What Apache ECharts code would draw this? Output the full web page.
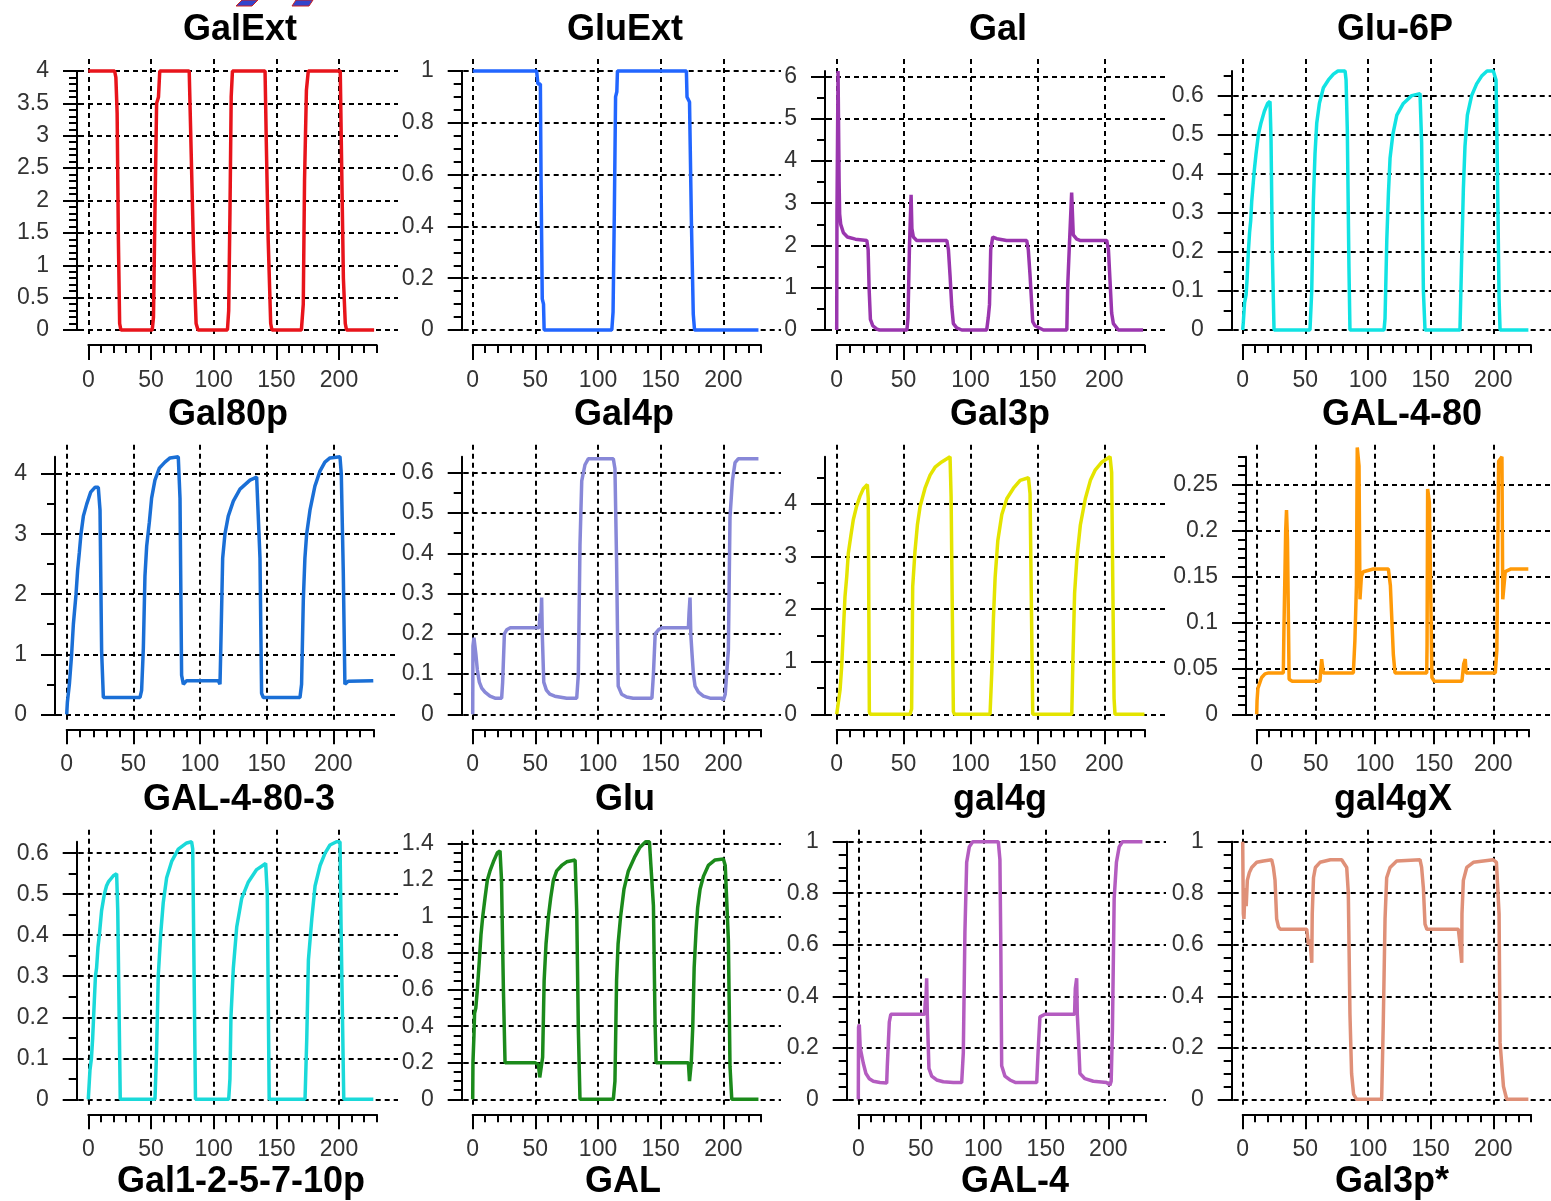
<!DOCTYPE html>
<html>
<head>
<meta charset="utf-8">
<script src="https://cdn.jsdelivr.net/npm/echarts@6/dist/echarts.min.js"></script>
<style>
  html, body { margin: 0; padding: 0; background: #ffffff; }
  #chart { width: 1551px; height: 1201px; }
</style>
</head>
<body>
<div id="chart"></div>
<script>
// Time courses of the galactose network simulation, [time, value]
const galExt = [[0,4],[21,4],[22,3.9],[23,3.35],[24,1.4],[25,0.1],[26,0],[51,0],[52,0.2],[53,1.6],[54.5,3.5],[56,3.6],[57,4],[80.5,4],[81.5,3.2],[84,1.2],[86,0.1],[87.5,0],[111,0],[112,0.3],[113,1.8],[114,3.6],[115,4],[141,4],[142,2.9],[143.5,1.4],[145.5,0.1],[146.5,0],[170,0],[171.5,0.4],[172.5,2.3],[174,3.7],[175.5,4],[201,4],[202,2.7],[203.5,0.8],[205,0.1],[206,0],[228,0]];
const gluExt = [[0,1],[51,1],[52,0.95],[54,0.95],[54.5,0.6],[55.5,0.12],[56.5,0.1],[57,0],[111,0],[112,0.07],[113,0.45],[114,0.9],[115,0.92],[115.5,1],[170.5,1],[171,0.9],[173,0.88],[174.5,0.42],[176,0.06],[177,0],[228,0]];
const gal = [[0,0],[0.2,2.75],[0.8,2.75],[1,6.13],[1.8,3.5],[2.2,2.75],[3,2.5],[5,2.3],[8,2.2],[14,2.15],[22.5,2.12],[23.5,1.9],[24.2,1.0],[25.2,0.25],[27,0.1],[30,0.02],[32,0],[52.5,0],[53.3,0.3],[54.4,2.0],[55.6,3.2],[56.2,2.4],[57.3,2.2],[59.8,2.12],[82.3,2.12],[83.5,1.9],[84.7,1.3],[86,0.55],[87.2,0.15],[89.7,0.05],[93.5,0],[112.1,0],[113.3,0.3],[114.2,0.6],[115.1,1.9],[116.6,2.2],[119.6,2.16],[127,2.12],[142,2.12],[143.2,1.9],[144.5,1.3],[146.5,0.2],[148.2,0.1],[154.5,0],[172,0],[172.6,1.0],[173.9,2.0],[175.6,3.25],[176.8,2.25],[179.4,2.15],[181.8,2.12],[201.8,2.12],[203.1,1.9],[204.3,1.15],[205.5,0.4],[206.8,0.15],[209.3,0.05],[210.5,0],[229,0]];
const glu6P = [[0,0],[0.5,0.02],[1.5,0.07],[2.7,0.09],[3.5,0.13],[4.5,0.2],[5.5,0.25],[6.4,0.28],[7.2,0.33],[8,0.36],[9.3,0.41],[10.6,0.45],[12.5,0.5],[14.6,0.53],[17.3,0.56],[19.9,0.58],[21.8,0.585],[22.6,0.49],[23.7,0.19],[25,0],[53.7,0],[55.1,0.1],[56.4,0.33],[57.7,0.45],[59.1,0.53],[61.2,0.58],[64.4,0.62],[68.4,0.64],[72.4,0.655],[76,0.663],[81.7,0.663],[82.5,0.64],[83.5,0.51],[84.8,0.16],[85.6,0],[112.8,0],[113.6,0.03],[115,0.23],[116.3,0.35],[117.6,0.44],[119.8,0.5],[123,0.55],[128.2,0.58],[134.9,0.6],[141.5,0.605],[142.8,0.48],[144.2,0.1],[145.5,0],[173.4,0],[174.8,0.19],[176.1,0.36],[177.4,0.47],[179.3,0.55],[182.7,0.6],[186.7,0.63],[190.7,0.65],[195,0.663],[200,0.663],[202.2,0.64],[203.2,0.43],[204.6,0.08],[205.4,0],[228,0]];
const gal80p = [[0,0],[0.5,0.2],[2,0.5],[3.7,1.0],[5,1.5],[7,2.0],[8.2,2.4],[9.5,2.7],[10.7,3.0],[12.5,3.3],[15,3.5],[18,3.7],[21.2,3.78],[23.7,3.78],[25,3.4],[26.2,1.05],[27.5,0.28],[55,0.28],[56.2,0.4],[57.5,1.1],[58.7,2.3],[60,2.8],[62,3.2],[63.7,3.6],[66.2,3.9],[69.5,4.1],[73.7,4.2],[77.5,4.27],[83.7,4.29],[85,3.6],[86.2,0.65],[87.5,0.5],[90,0.56],[113.7,0.56],[115,0.5],[115.5,1.0],[117,2.6],[118.7,3.0],[121.2,3.3],[125,3.55],[130,3.75],[137.5,3.9],[142.5,3.95],[145,2.6],[146.2,0.35],[147.5,0.28],[175,0.28],[176.2,0.5],[177.5,1.9],[178.7,2.6],[180,3.0],[182.5,3.4],[186.2,3.8],[190,4.05],[193.7,4.2],[197.5,4.27],[205,4.29],[206,4.0],[207.5,2.35],[208.7,0.5],[211.2,0.55],[230,0.56]];
const gal4p = [[0,0],[0.2,0.17],[1,0.19],[2.5,0.15],[3.7,0.11],[5.3,0.08],[7.2,0.065],[9.8,0.055],[13.8,0.045],[17.8,0.04],[23.1,0.04],[23.9,0.08],[25.3,0.2],[27.1,0.21],[30,0.215],[53,0.215],[53.7,0.25],[54.2,0.22],[55,0.29],[55.5,0.2],[56.7,0.08],[58.8,0.06],[61.5,0.05],[65.5,0.045],[75,0.04],[83,0.04],[84.3,0.1],[85.6,0.42],[87,0.58],[89.6,0.62],[92.3,0.635],[112.2,0.635],[113.5,0.61],[114.8,0.38],[116.1,0.07],[118.8,0.05],[122.8,0.043],[128,0.04],[143,0.04],[144.2,0.1],[145.6,0.2],[148.2,0.21],[151,0.215],[172.1,0.215],[172.6,0.25],[173.4,0.29],[174,0.2],[175,0.15],[176.1,0.1],[177.4,0.07],[180.1,0.055],[184.1,0.045],[189.4,0.04],[198.7,0.04],[200,0.035],[201.5,0.05],[204,0.16],[205.3,0.49],[207.2,0.58],[209.3,0.625],[212,0.635],[228,0.635]];
const gal3p = [[0,0],[1.2,0.02],[2.5,0.46],[3.7,0.9],[5,1.6],[6.2,2.24],[7.5,2.62],[8.7,3.07],[10.5,3.38],[12.4,3.7],[14.9,3.96],[17.4,4.15],[19.9,4.29],[22.9,4.37],[23.6,4.1],[24.4,0.05],[25,0],[54.8,0],[56,0.1],[56.8,2.43],[58.5,3.1],[60.3,3.6],[62.3,3.95],[66,4.3],[69.8,4.55],[73.5,4.7],[78.5,4.8],[84.7,4.9],[85.5,4.15],[87.2,0.05],[88,0],[114.6,0],[115.9,0.8],[117.1,1.8],[118.4,2.6],[120.4,3.3],[123.4,3.8],[127.1,4.1],[132.1,4.3],[137.1,4.45],[143.3,4.5],[144.5,4.2],[146.5,0],[175.7,0],[176.5,1.0],[177.8,2.3],[179.6,3.0],[182.1,3.6],[185.8,4.1],[189.6,4.45],[193.3,4.65],[198.3,4.8],[204.3,4.9],[205.5,4.6],[206.3,2.6],[207.3,0.3],[208,0],[230,0]];
const gal4_80 = [[0,0],[0.3,0.015],[1,0.028],[2.8,0.035],[4.2,0.04],[7,0.044],[10,0.045],[22.5,0.045],[23,0.09],[24.5,0.2],[25.2,0.222],[26,0.19],[27.4,0.038],[30,0.036],[53.5,0.036],[54.9,0.06],[56.3,0.045],[81.7,0.045],[83,0.08],[84.3,0.14],[85,0.29],[86.5,0.27],[87.3,0.125],[88.5,0.15],[90.1,0.155],[98.6,0.158],[111.3,0.158],[113,0.14],[115.5,0.065],[116.9,0.045],[143.7,0.045],[144,0.075],[144.5,0.245],[146,0.23],[148.1,0.04],[150,0.036],[173.5,0.036],[175,0.055],[176.3,0.06],[177,0.045],[201.7,0.045],[203,0.07],[204.5,0.275],[207.3,0.28],[208,0.125],[210.1,0.155],[215,0.158],[229.6,0.158]];
const gal4_80_3 = [[0,0],[1.3,0.07],[2.5,0.1],[3.5,0.15],[4.8,0.24],[5.7,0.3],[6.6,0.32],[7.7,0.37],[8.8,0.4],[10.6,0.46],[12.8,0.5],[14.5,0.52],[16,0.53],[20,0.545],[22.6,0.55],[23.5,0.46],[25.5,0],[53.2,0],[54.5,0.12],[55.8,0.3],[57.7,0.4],[59.8,0.48],[62.5,0.54],[66.5,0.58],[71.8,0.61],[78.5,0.625],[82.4,0.628],[83.3,0.61],[85.5,0],[112,0],[113,0.05],[113.8,0.2],[115.7,0.32],[118.4,0.42],[122.4,0.49],[127.7,0.53],[134.3,0.56],[141.5,0.575],[142.8,0.5],[144.3,0],[172.9,0],[174.3,0.15],[175.6,0.34],[178.3,0.44],[180.9,0.52],[184.9,0.57],[188.9,0.6],[192.8,0.62],[198,0.628],[200.8,0.628],[201.6,0.43],[203.8,0],[227.4,0]];
const glu = [[0,0],[0.2,0.2],[1,0.35],[1.5,0.47],[2.5,0.5],[3.7,0.6],[5.3,0.76],[6.6,0.9],[8,1.0],[9.8,1.1],[11.7,1.2],[13.8,1.25],[16.5,1.3],[19.7,1.35],[21.8,1.36],[23,1.2],[24.5,0.6],[25.8,0.2],[49.8,0.2],[52.4,0.19],[53.5,0.12],[54.5,0.13],[55.8,0.23],[57,0.65],[58.5,0.85],[60.4,1.0],[62.2,1.1],[64.4,1.2],[67,1.25],[71,1.28],[75,1.3],[81.7,1.31],[83,1.03],[84.3,0.38],[85.6,0],[112.2,0],[113.5,0.1],[114.8,0.65],[116,0.85],[118,1.0],[120.7,1.15],[124.2,1.25],[129.5,1.33],[133.5,1.38],[138,1.41],[141,1.41],[144.2,1.06],[145.5,0.42],[146.3,0.2],[172.1,0.2],[173,0.1],[174.4,0.2],[175.6,0.4],[176.7,0.72],[178.2,0.92],[179.5,1.05],[181.4,1.15],[184.1,1.22],[188,1.28],[193.4,1.31],[200,1.315],[201.5,1.28],[204,0.87],[205.3,0.18],[206.7,0],[228,0]];
const gal4g = [[0,0],[0.2,0.28],[0.8,0.29],[1.5,0.2],[2.7,0.2],[4,0.14],[6.1,0.1],[8.8,0.08],[12,0.07],[17.3,0.065],[22.7,0.063],[23.2,0.13],[24.8,0.3],[26,0.33],[28,0.33],[53,0.33],[53.6,0.38],[54.2,0.4],[54.7,0.47],[55.2,0.33],[56.5,0.12],[58.7,0.09],[62.7,0.075],[68,0.068],[76,0.065],[82.7,0.065],[84,0.18],[85.3,0.65],[86.7,0.92],[88.8,0.98],[91.5,1.0],[112,1.0],[113.3,0.93],[114,0.6],[114.7,0.13],[117.3,0.09],[121.3,0.075],[126,0.065],[142.7,0.065],[144,0.2],[145.3,0.32],[149.3,0.33],[173,0.33],[173.6,0.43],[174.7,0.47],[175.2,0.33],[176,0.25],[177.3,0.1],[181.3,0.08],[188,0.07],[198.7,0.065],[201.3,0.055],[202.3,0.07],[203.3,0.27],[204.7,0.78],[206.5,0.92],[208.7,0.98],[211.3,1.0],[227.3,1.0]];
const gal4gX = [[0,1.0],[0.5,0.72],[1,0.7],[1.9,0.82],[2.8,0.75],[3.7,0.85],[5.3,0.88],[7.2,0.9],[11.2,0.92],[16.5,0.925],[23.1,0.93],[24.5,0.9],[25.8,0.85],[27.1,0.7],[28.5,0.67],[30,0.66],[51.1,0.66],[52.5,0.6],[53.8,0.62],[55.1,0.53],[55.5,0.72],[56.5,0.86],[58,0.9],[61.7,0.92],[70,0.93],[79,0.93],[83,0.9],[84.3,0.8],[85.6,0.33],[86.9,0.1],[88.5,0.02],[90.9,0],[110.9,0],[112.2,0.3],[113.6,0.7],[114.9,0.86],[117.6,0.9],[122.9,0.925],[141.5,0.93],[142.8,0.9],[144.2,0.82],[145.5,0.68],[147,0.66],[172.1,0.66],[173.5,0.6],[174.8,0.53],[175,0.72],[176.1,0.85],[178.8,0.9],[184.1,0.92],[200,0.93],[202.5,0.92],[204.6,0.72],[205.4,0.22],[208.1,0.05],[210.7,0],[228,0]];

// Panel names, drawn above each plot; the last row belongs to the next block of plots
const panelTitles = ['GalExt','GluExt','Gal','Glu-6P','Gal80p','Gal4p','Gal3p','GAL-4-80','GAL-4-80-3','Glu','gal4g','gal4gX'];
const nextTitles = ['Gal1-2-5-7-10p','GAL','GAL-4','Gal3p*'];
const series = [galExt, gluExt, gal, glu6P, gal80p, gal4p, gal3p, gal4_80, gal4_80_3, glu, gal4g, gal4gX];
// Upper end of each y axis and its labelled step
const yTopValues = [4, 1, 6.13, 0.663, 4.29, 0.64, 4.9, 0.28, 0.628, 1.41, 1, 1];
const yMajorSteps = [0.5, 0.2, 1, 0.1, 1, 0.1, 1, 0.05, 0.1, 0.2, 0.2, 0.2];
const yMinorSplits = [5, 4, 2, 2, 2, 2, 2, 5, 2, 4, 4, 4];
const tMax = 230;
const tMajorStep = 50;
const tLabelMax = 200;
const tMinorStep = 10;

// Layout of the 3 x 4 panel block
const colors = ['#e8141b','#2266ff','#9a36ae','#11e3e3','#1a6fd6','#8888d8','#e4e400','#ff9a08','#1ad9d9','#1b8a1b','#b45cc0','#df9078'];
const rowsGeom = [{yTop:71, y0:330}, {yTop:456.7, y0:714.3}, {yTop:841.7, y0:1099.3}];
const colRight = [398, 781, 1166, 1551];
const axisX = [77, 461.7, 825, 1231.7, 55, 461.7, 825, 1246, 76.7, 461.7, 846.7, 1231.7];
const zeroX = [88.3, 472.7, 836.7, 1242.7, 66.7, 472.7, 836.7, 1256.7, 88.3, 472.7, 858.3, 1242.7];
const pxPerT = [1.2535, 1.2533, 1.338, 1.253, 1.333, 1.2533, 1.338, 1.183, 1.2535, 1.2533, 1.25, 1.253];
const titleX = [240, 625, 998, 1395, 228, 624, 1000, 1402, 239, 625, 1000, 1393];
const nextTitleX = [241, 623, 1015, 1392];

const FONT = 'Liberation Sans';
const INK = '#000000';
const dash = { type: [5, 4], color: '#000000', width: 2 };
const tickLine = { color: INK, width: 2 };
const labelStyle = { fontFamily: FONT, fontSize: 23, color: '#333333' };

const grids = [], xAxes = [], yAxes = [], seriesOpts = [], graphics = [];
const r6 = v => +v.toFixed(6);

function addGrid(rect) {
  grids.push({ left: rect.left, top: rect.top, width: rect.width, height: rect.height, containLabel: false });
  return grids.length - 1;
}
const hidden = (g) => ({ gridIndex: g, type: 'value', min: 0, max: 1, show: false });

for (let i = 0; i < 12; i++) {
  const row = Math.floor(i / 4), col = i % 4;
  const { yTop, y0 } = rowsGeom[row];
  const ax = axisX[i], x0 = zeroX[i], kx = pxPerT[i];
  const ymax = yTopValues[i], step = yMajorSteps[i];
  const minorStep = step / yMinorSplits[i];
  const ky = (y0 - yTop) / ymax;
  const yMaj = r6(Math.floor(ymax / step + 1e-6) * step);
  const yMin = r6(Math.floor(ymax / minorStep + 1e-6) * minorStep);
  const right = colRight[col];

  // horizontal dashed lines + y labels + long y ticks
  let g = addGrid({ left: ax + 2, top: y0 - yMaj * ky, width: right - ax - 2, height: yMaj * ky });
  xAxes.push(hidden(g));
  yAxes.push({
    gridIndex: g, type: 'value', min: 0, max: yMaj, interval: step, position: 'left', offset: 2,
    axisLine: { show: false }, axisTick: { show: true, length: 16, lineStyle: tickLine },
    axisLabel: Object.assign({ show: true, margin: 28 }, labelStyle),
    splitLine: { show: true, lineStyle: dash }
  });

  // vertical dashed lines + time labels + long time ticks
  g = addGrid({ left: x0, top: yTop - 12, width: tLabelMax * kx, height: y0 - yTop + 20 });
  yAxes.push(hidden(g));
  xAxes.push({
    gridIndex: g, type: 'value', min: 0, max: tLabelMax, interval: tMajorStep, position: 'bottom', offset: 7,
    axisLine: { show: false, onZero: false }, axisTick: { show: true, length: 15, lineStyle: tickLine },
    axisLabel: Object.assign({ show: true, margin: 24 }, labelStyle),
    splitLine: { show: true, lineStyle: dash }
  });

  // minor ticks on both axes
  g = addGrid({ left: x0, top: y0 - yMin * ky, width: tMax * kx, height: yMin * ky });
  xAxes.push({
    gridIndex: g, type: 'value', min: 0, max: tMax, interval: tMinorStep, position: 'bottom', offset: 15,
    axisLine: { show: false, onZero: false }, axisTick: { show: true, length: 8, lineStyle: tickLine },
    axisLabel: { show: false }, splitLine: { show: false }
  });
  yAxes.push({
    gridIndex: g, type: 'value', min: 0, max: yMin, interval: minorStep, position: 'left', offset: x0 - ax,
    axisLine: { show: false, onZero: false }, axisTick: { show: true, length: 8, lineStyle: tickLine },
    axisLabel: { show: false }, splitLine: { show: false }
  });

  // data area with the full-length axis lines
  g = addGrid({ left: x0, top: yTop, width: tMax * kx, height: y0 - yTop });
  xAxes.push({
    gridIndex: g, type: 'value', min: 0, max: tMax, position: 'bottom', offset: 15,
    axisLine: { show: true, onZero: false, lineStyle: tickLine },
    axisTick: { show: false }, axisLabel: { show: false }, splitLine: { show: false }
  });
  yAxes.push({
    gridIndex: g, type: 'value', min: 0, max: ymax, position: 'left', offset: x0 - ax,
    axisLine: { show: true, onZero: false, lineStyle: tickLine },
    axisTick: { show: false }, axisLabel: { show: false }, splitLine: { show: false }
  });
  seriesOpts.push({
    type: 'line', name: panelTitles[i], xAxisIndex: xAxes.length - 1, yAxisIndex: yAxes.length - 1,
    data: series[i], showSymbol: false, symbol: 'none', clip: false, z: 5,
    lineStyle: { color: colors[i], width: 3.5 }
  });

  graphics.push({
    type: 'text', x: titleX[i], y: y0 - 299.5, z: 10,
    style: { text: panelTitles[i], font: 'bold 36px "' + FONT + '"', fill: '#000', textAlign: 'center', textVerticalAlign: 'middle' }
  });
}
for (let c = 0; c < 4; c++) {
  graphics.push({
    type: 'text', x: nextTitleX[c], y: rowsGeom[2].y0 + 83, z: 10,
    style: { text: nextTitles[c], font: 'bold 36px "' + FONT + '"', fill: '#000', textAlign: 'center', textVerticalAlign: 'middle' }
  });
}
// clipped strokes of the block above, at the very top edge
graphics.push(
  { type: 'polygon', z: 10, shape: { points: [[236, 6], [242, 0], [258, 0], [252, 6]] }, style: { fill: '#3344cc', stroke: '#cc2222', lineWidth: 1 } },
  { type: 'polygon', z: 10, shape: { points: [[292, 6], [296, 0], [313, 0], [309, 6]] }, style: { fill: '#3344cc', stroke: '#cc2222', lineWidth: 1 } }
);

const chart = echarts.init(document.getElementById('chart'), null, { renderer: 'canvas' });
chart.setOption({
  animation: false,
  backgroundColor: '#ffffff',
  grid: grids,
  xAxis: xAxes,
  yAxis: yAxes,
  series: seriesOpts,
  graphic: { elements: graphics }
});
</script>
</body>
</html>
